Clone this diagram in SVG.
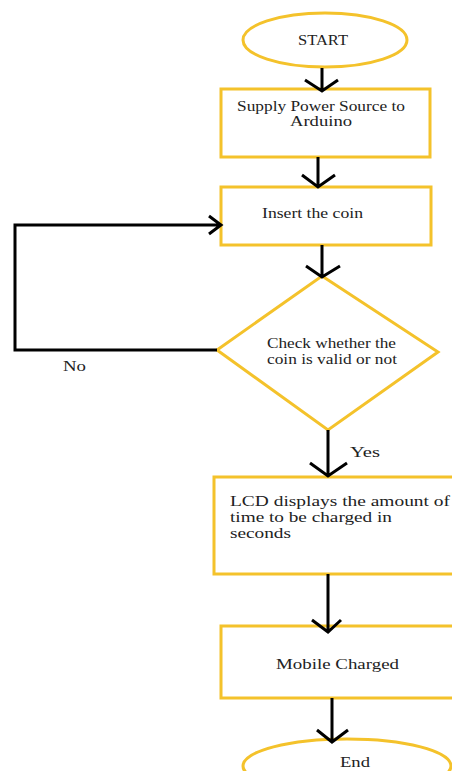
<svg xmlns="http://www.w3.org/2000/svg" width="452" height="771" viewBox="0 0 452 771">
<style>
.box{fill:#fff;stroke:#F4C22B;stroke-width:3}
.ln{fill:none;stroke:#000;stroke-width:3;stroke-linejoin:miter}
.t{font-family:"Liberation Serif","Times New Roman",serif;font-size:14px;fill:#222}
</style>
<rect width="452" height="771" fill="#fff"/>
<g id="start">
<ellipse class="box" cx="325" cy="40" rx="82" ry="27"/>
<text class="t" x="323" y="45" text-anchor="middle" textLength="50" lengthAdjust="spacingAndGlyphs">START</text>
</g>
<g id="supply">
<rect class="box" x="221" y="89" width="209" height="68"/>
<text class="t" x="237" y="111" textLength="168" lengthAdjust="spacingAndGlyphs">Supply Power Source to</text>
<text class="t" x="290" y="126" textLength="62" lengthAdjust="spacingAndGlyphs">Arduino</text>
</g>
<g id="insert">
<rect class="box" x="221" y="187" width="210" height="58"/>
<text class="t" x="262" y="218" textLength="101" lengthAdjust="spacingAndGlyphs">Insert the coin</text>
</g>
<g id="check">
<polygon class="box" points="322,276 438,352 328,430 217,350"/>
<text class="t" x="267" y="348" textLength="129" lengthAdjust="spacingAndGlyphs">Check whether the</text>
<text class="t" x="267" y="364" textLength="130" lengthAdjust="spacingAndGlyphs">coin is valid or not</text>
</g>
<g id="lcd">
<rect class="box" x="214" y="477" width="250" height="97"/>
<text class="t" x="230" y="506" textLength="220" lengthAdjust="spacingAndGlyphs">LCD displays the amount of</text>
<text class="t" x="230" y="522" textLength="162" lengthAdjust="spacingAndGlyphs">time to be charged in</text>
<text class="t" x="230" y="538" textLength="61" lengthAdjust="spacingAndGlyphs">seconds</text>
</g>
<g id="mobile">
<rect class="box" x="221" y="626" width="245" height="72"/>
<text class="t" x="276" y="669" textLength="123" lengthAdjust="spacingAndGlyphs">Mobile Charged</text>
</g>
<g id="end">
<ellipse class="box" cx="347" cy="766" rx="104" ry="27"/>
<text class="t" x="340" y="767" textLength="30" lengthAdjust="spacingAndGlyphs">End</text>
</g>
<g id="connectors">
<path class="ln" d="M322,68 V90 M305,80 L322,91 L338,80"/>
<path class="ln" d="M318,157 V187 M302,175 L318,187 L335,175"/>
<path class="ln" d="M322,245 V277 M306,266 L322,277 L340,266"/>
<path class="ln" d="M217,350 H15 V225 H220 M209,216 L221,225 L209,234"/>
<path class="ln" d="M328,430 V477 M310,463 L328,476 L347,463"/>
<path class="ln" d="M328,574 V631 M312,620 L328,632 L341,620"/>
<path class="ln" d="M332,698 V742 M317,730 L332,742 L348,730"/>
<text class="t" x="63" y="371" textLength="23" lengthAdjust="spacingAndGlyphs">No</text>
<text class="t" x="350" y="457" textLength="30" lengthAdjust="spacingAndGlyphs">Yes</text>
</g>
</svg>
